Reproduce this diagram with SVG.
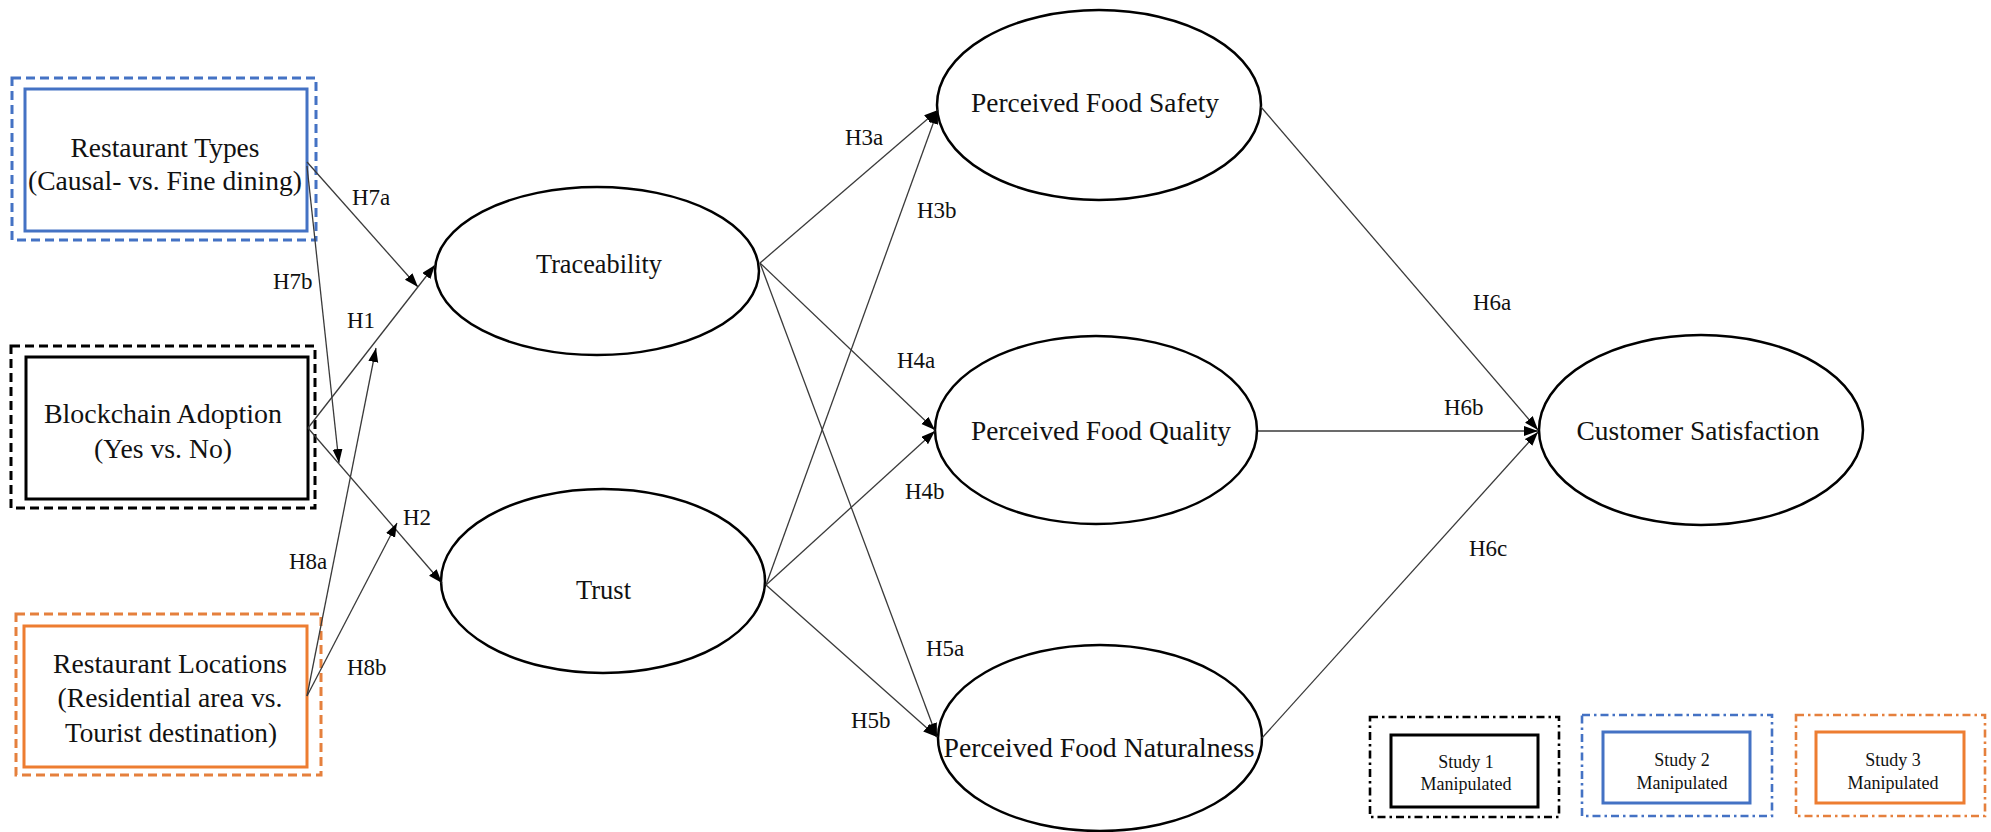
<svg xmlns="http://www.w3.org/2000/svg" width="1991" height="832" viewBox="0 0 1991 832" font-family="'Liberation Serif', serif">
<style>
  text { font-family: "Liberation Serif", serif; fill: #111; }
  .nt { font-size: 28px; text-anchor: middle; }
  .lb { font-size: 23px; }
  .lg { font-size: 18px; text-anchor: middle; }
  .ell { fill: #fff; stroke: #000; stroke-width: 2.5; }
  .dash { fill: none; stroke-width: 3; stroke-dasharray: 9 5; }
  .dashdot { fill: none; stroke-width: 2.6; stroke-dasharray: 8 4 2.5 4; }
  .inner { fill: #fff; stroke-width: 3; }
  .conn line { stroke: #3a3a3a; stroke-width: 1.3; fill: none; marker-end: url(#arr); }
</style>
<defs>
  <marker id="arr" markerUnits="userSpaceOnUse" markerWidth="15" markerHeight="11" refX="14" refY="5" orient="auto">
    <path d="M0,0 L14,5 L0,10 z" fill="#000"/>
  </marker>
</defs>
<rect width="1991" height="832" fill="#fff"/>

<g id="restaurant-types">
  <rect class="dash" x="12" y="78" width="304" height="162" stroke="#4472C4"/>
  <rect class="inner" x="25" y="89" width="282" height="142" stroke="#4472C4"/>
  <text class="nt" x="165" y="157" textLength="189" lengthAdjust="spacingAndGlyphs">Restaurant Types</text>
  <text class="nt" x="165" y="190" textLength="274" lengthAdjust="spacingAndGlyphs">(Causal- vs. Fine dining)</text>
</g>

<g id="blockchain-adoption">
  <rect class="dash" x="11" y="346" width="304" height="162" stroke="#000"/>
  <rect class="inner" x="26" y="357" width="282" height="142" stroke="#000"/>
  <text class="nt" x="163" y="423" textLength="238" lengthAdjust="spacingAndGlyphs">Blockchain Adoption</text>
  <text class="nt" x="163" y="458" textLength="138" lengthAdjust="spacingAndGlyphs">(Yes vs. No)</text>
</g>

<g id="restaurant-locations">
  <rect class="dash" x="16" y="614" width="305" height="161" stroke="#E5803D"/>
  <rect class="inner" x="24" y="626" width="283" height="141" stroke="#ED7D31"/>
  <text class="nt" x="170" y="673" textLength="234" lengthAdjust="spacingAndGlyphs">Restaurant Locations</text>
  <text class="nt" x="170" y="707" textLength="225" lengthAdjust="spacingAndGlyphs">(Residential area vs.</text>
  <text class="nt" x="171" y="742" textLength="212" lengthAdjust="spacingAndGlyphs">Tourist destination)</text>
</g>

<g id="traceability">
  <ellipse class="ell" cx="597" cy="271" rx="162" ry="84"/>
  <text class="nt" x="599" y="273" textLength="126" lengthAdjust="spacingAndGlyphs">Traceability</text>
</g>

<g id="trust">
  <ellipse class="ell" cx="603" cy="581" rx="162" ry="92"/>
  <text class="nt" x="603.5" y="599" textLength="55" lengthAdjust="spacingAndGlyphs">Trust</text>
</g>

<g id="perceived-food-safety">
  <ellipse class="ell" cx="1099" cy="105" rx="162" ry="95"/>
  <text class="nt" x="1095" y="112" textLength="248" lengthAdjust="spacingAndGlyphs">Perceived Food Safety</text>
</g>

<g id="perceived-food-quality">
  <ellipse class="ell" cx="1096" cy="430" rx="161" ry="94"/>
  <text class="nt" x="1101" y="440" textLength="260" lengthAdjust="spacingAndGlyphs">Perceived Food Quality</text>
</g>

<g id="perceived-food-naturalness">
  <ellipse class="ell" cx="1100" cy="738" rx="162" ry="93"/>
  <text class="nt" x="1099" y="757" textLength="311" lengthAdjust="spacingAndGlyphs">Perceived Food Naturalness</text>
</g>

<g id="customer-satisfaction">
  <ellipse class="ell" cx="1701" cy="430" rx="162" ry="95"/>
  <text class="nt" x="1698" y="440" textLength="243" lengthAdjust="spacingAndGlyphs">Customer Satisfaction</text>
</g>

<g id="connectors" class="conn">
  <line x1="307" y1="162" x2="418" y2="287"/>
  <line x1="307" y1="166" x2="339" y2="463"/>
  <line x1="308" y1="428" x2="435" y2="265"/>
  <line x1="308" y1="428" x2="442" y2="583"/>
  <line x1="307" y1="696" x2="376" y2="348"/>
  <line x1="307" y1="696" x2="397" y2="523"/>
  <line x1="760" y1="263" x2="938" y2="110"/>
  <line x1="760" y1="263" x2="935" y2="430"/>
  <line x1="760" y1="263" x2="937" y2="737"/>
  <line x1="766" y1="585" x2="938" y2="110"/>
  <line x1="766" y1="585" x2="935" y2="431"/>
  <line x1="766" y1="585" x2="937" y2="737"/>
  <line x1="1261" y1="107" x2="1538" y2="430"/>
  <line x1="1258" y1="431" x2="1538" y2="431"/>
  <line x1="1262" y1="738" x2="1538" y2="432"/>
</g>

<g id="labels">
  <text class="lb" x="352" y="205">H7a</text>
  <text class="lb" x="273" y="289">H7b</text>
  <text class="lb" x="347" y="328">H1</text>
  <text class="lb" x="403" y="525">H2</text>
  <text class="lb" x="289" y="569">H8a</text>
  <text class="lb" x="347" y="675">H8b</text>
  <text class="lb" x="845" y="145">H3a</text>
  <text class="lb" x="917" y="218">H3b</text>
  <text class="lb" x="897" y="368">H4a</text>
  <text class="lb" x="905" y="499">H4b</text>
  <text class="lb" x="926" y="656">H5a</text>
  <text class="lb" x="851" y="728">H5b</text>
  <text class="lb" x="1473" y="310">H6a</text>
  <text class="lb" x="1444" y="415">H6b</text>
  <text class="lb" x="1469" y="556">H6c</text>
</g>

<g id="legend-study1">
  <rect class="dashdot" x="1370" y="717" width="189" height="100" stroke="#000"/>
  <rect class="inner" x="1391" y="735" width="147" height="72" stroke="#000"/>
  <text class="lg" x="1466" y="768">Study 1</text>
  <text class="lg" x="1466" y="790">Manipulated</text>
</g>

<g id="legend-study2">
  <rect class="dashdot" x="1582" y="715" width="190" height="101" stroke="#4472C4"/>
  <rect class="inner" x="1603" y="732" width="147" height="71" stroke="#4472C4"/>
  <text class="lg" x="1682" y="766">Study 2</text>
  <text class="lg" x="1682" y="789">Manipulated</text>
</g>

<g id="legend-study3">
  <rect class="dashdot" x="1796" y="715" width="189" height="101" stroke="#E5803D"/>
  <rect class="inner" x="1816" y="732" width="148" height="71" stroke="#ED7D31"/>
  <text class="lg" x="1893" y="766">Study 3</text>
  <text class="lg" x="1893" y="789">Manipulated</text>
</g>
</svg>
